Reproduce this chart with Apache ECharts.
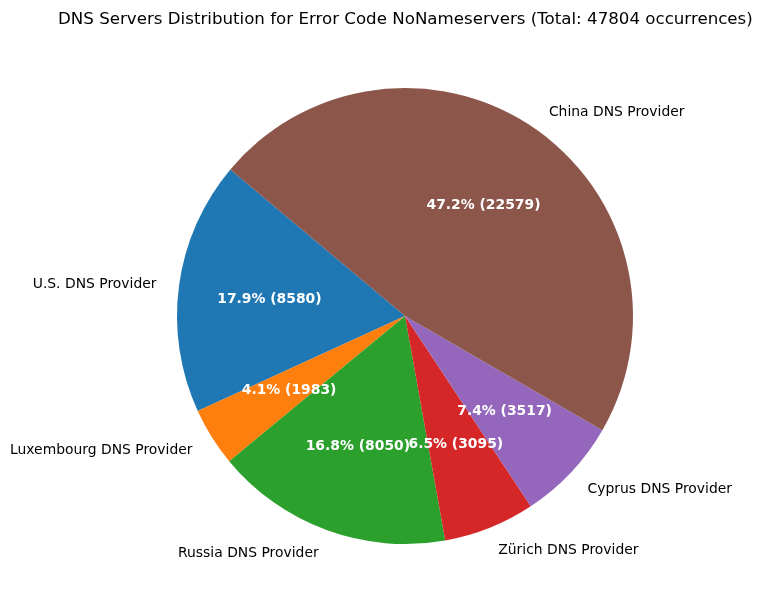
<!DOCTYPE html>
<html>
<head>
<meta charset="utf-8">
<script src="https://cdn.jsdelivr.net/npm/echarts@6/dist/echarts.min.js"></script>
<style>html,body{margin:0;padding:0;background:#fff}#c{width:761px;height:611px}</style>
</head>
<body>
<div id="c"></div>
<script>
const titleText = 'DNS Servers Distribution for Error Code NoNameservers (Total: 47804 occurrences)';
const categories = ['U.S. DNS Provider', 'Luxembourg DNS Provider', 'Russia DNS Provider', 'Zürich DNS Provider', 'Cyprus DNS Provider', 'China DNS Provider'];
const values = [8580, 1983, 8050, 3095, 3517, 22579];
const colors = ['#1f77b4', '#ff7f0e', '#2ca02c', '#d62728', '#9467bd', '#8c564b'];

const R = 228;
const CX = 405, CY = 316;
const total = values.reduce((a, b) => a + b, 0);
const font = 'DejaVu Sans';
const data = categories.map((c, i) => ({ name: c, value: values[i], itemStyle: { color: colors[i] } }));

function innerSeries(onlyIndex) {
  return {
    type: 'pie',
    center: [CX, CY],
    radius: [R * 0.2 - 6, R],
    startAngle: 140,
    clockwise: false,
    avoidLabelOverlap: false,
    silent: true,
    labelLayout: { hideOverlap: false },
    itemStyle: { color: 'rgba(0,0,0,0)', borderWidth: 0 },
    label: {
      show: true,
      position: 'inside',
      formatter: p => (p.value / total * 100).toFixed(1) + '% (' + p.value + ')',
      fontFamily: font,
      fontSize: 13.9,
      fontWeight: 'bold',
      color: '#fff',
      offset: [0, 1.5],
      overflow: 'none'
    },
    labelLine: { show: false },
    data: categories.map((c, i) => ({
      name: c, value: values[i],
      itemStyle: { color: 'rgba(0,0,0,0)' },
      label: { show: (i % 2) === onlyIndex }
    }))
  };
}

const chart = echarts.init(document.getElementById('c'), null, { renderer: 'canvas' });
chart.setOption({
  animation: false,
  backgroundColor: '#ffffff',
  title: {
    text: titleText,
    left: 53,
    top: 6,
    textStyle: { fontFamily: font, fontSize: 16.67, fontWeight: 'normal', color: '#000' }
  },
  series: [
    {
      type: 'pie',
      center: [CX, CY],
      radius: [0, R],
      startAngle: 140,
      clockwise: false,
      avoidLabelOverlap: false,
      silent: true,
      labelLayout: { hideOverlap: false },
      itemStyle: { borderWidth: 0 },
      label: {
        show: true,
        position: 'outside',
        formatter: '{b}',
        fontFamily: font,
        fontSize: 13.9,
        color: '#000',
        distanceToLabelLine: 0,
        offset: [0, 1.5],
        overflow: 'none'
      },
      labelLine: { show: false, length: R * 0.1, length2: 0 },
      data: data
    },
    innerSeries(0),
    innerSeries(1)
  ]
});
</script>
</body>
</html>
